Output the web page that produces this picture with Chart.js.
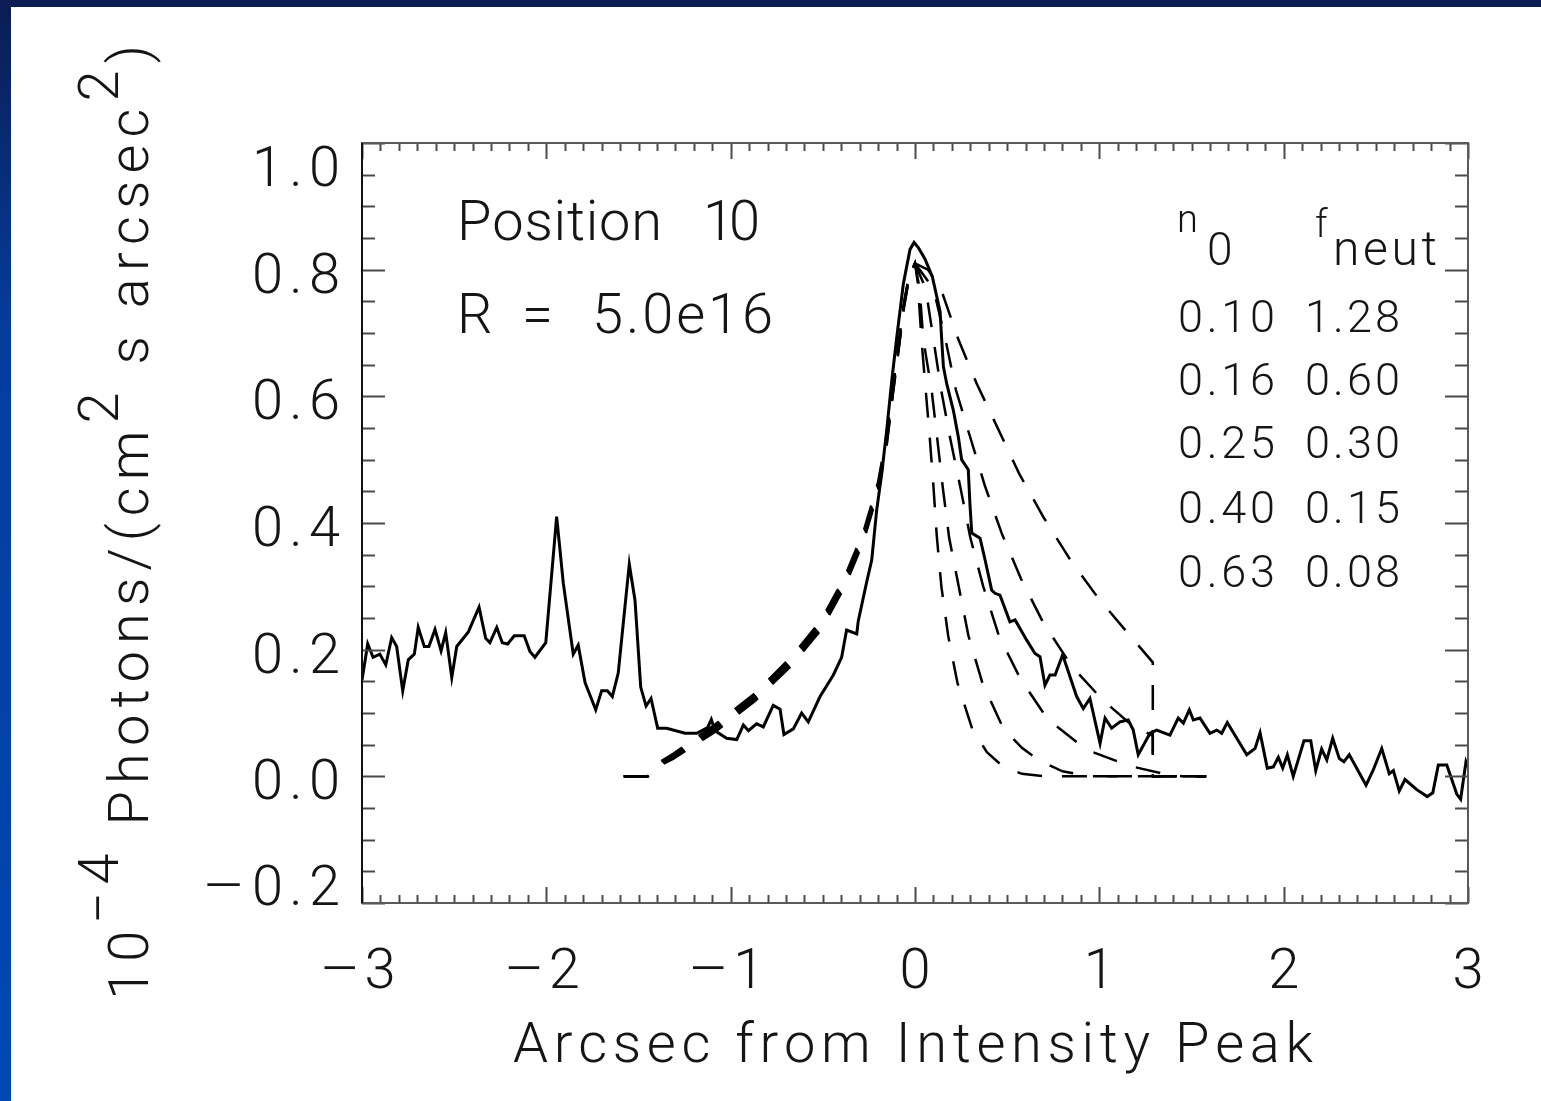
<!DOCTYPE html>
<html>
<head>
<meta charset="utf-8">
<title>Position 10 profile</title>
<script src="https://cdn.jsdelivr.net/npm/chart.js@4.4.1/dist/chart.umd.min.js"></script>
<style>
  html, body { margin: 0; padding: 0; background: #fff; }
  canvas { display: block; }
</style>
</head>
<body>
<canvas id="chartProfile" width="1541" height="1101"></canvas>
<script>
// observed profile (solid line)
const obsX = [
  -3.000, -2.969, -2.940, -2.903, -2.871, -2.839, -2.812, -2.779, -2.749, -2.716,
  -2.695, -2.662, -2.637, -2.604, -2.571, -2.546, -2.513, -2.486, -2.423, -2.365,
  -2.329, -2.306, -2.269, -2.239, -2.210, -2.174, -2.120, -2.089, -2.062, -2.003,
  -1.944, -1.908, -1.854, -1.827, -1.790, -1.732, -1.700, -1.669, -1.642, -1.610,
  -1.550, -1.519, -1.488, -1.459, -1.432, -1.396, -1.347, -1.248, -1.184, -1.125,
  -1.105, -1.085, -1.022, -0.967, -0.931, -0.904, -0.859, -0.823, -0.769, -0.732,
  -0.711, -0.660, -0.615, -0.579, -0.515, -0.443, -0.398, -0.371, -0.316, -0.308,
  -0.262, -0.235, -0.208, -0.181, -0.154, -0.126, -0.099, -0.063, -0.027, -0.005, 0.018,
  0.054, 0.094, 0.136, 0.145, 0.154, 0.172, 0.208, 0.235, 0.253, 0.289,
  0.298, 0.308, 0.353, 0.380, 0.416, 0.434, 0.461, 0.515, 0.543, 0.606,
  0.651, 0.678, 0.705, 0.732, 0.760, 0.801, 0.877, 0.913, 0.949, 1.004,
  1.031, 1.067, 1.112, 1.157, 1.184, 1.211, 1.275, 1.311, 1.383, 1.428,
  1.456, 1.488, 1.510, 1.546, 1.600, 1.637, 1.664, 1.694, 1.800, 1.845,
  1.872, 1.911, 1.944, 1.971, 1.995, 2.020, 2.052, 2.110, 2.147, 2.174,
  2.206, 2.234, 2.266, 2.302, 2.327, 2.356, 2.447, 2.486, 2.532, 2.573,
  2.595, 2.627, 2.658, 2.722, 2.779, 2.809, 2.839, 2.885, 2.939, 2.960,
  2.989, 3.000
];
const obsY = [
  0.152, 0.209, 0.188, 0.193, 0.176, 0.219, 0.205, 0.135, 0.184, 0.193,
  0.235, 0.205, 0.205, 0.232, 0.198, 0.227, 0.156, 0.205, 0.228, 0.267,
  0.218, 0.211, 0.235, 0.211, 0.209, 0.222, 0.222, 0.197, 0.188, 0.211,
  0.410, 0.305, 0.193, 0.207, 0.148, 0.105, 0.135, 0.135, 0.126, 0.163,
  0.335, 0.278, 0.141, 0.111, 0.123, 0.076, 0.076, 0.068, 0.068, 0.077,
  0.090, 0.072, 0.060, 0.058, 0.081, 0.072, 0.083, 0.078, 0.112, 0.106,
  0.066, 0.075, 0.100, 0.086, 0.126, 0.160, 0.188, 0.231, 0.225, 0.245,
  0.307, 0.341, 0.420, 0.477, 0.545, 0.625, 0.693, 0.778, 0.832, 0.843, 0.835,
  0.817, 0.789, 0.734, 0.689, 0.647, 0.620, 0.578, 0.536, 0.500, 0.484,
  0.430, 0.384, 0.376, 0.342, 0.294, 0.289, 0.286, 0.244, 0.247, 0.215,
  0.194, 0.189, 0.144, 0.160, 0.160, 0.192, 0.126, 0.107, 0.123, 0.052,
  0.092, 0.076, 0.086, 0.089, 0.073, 0.034, 0.068, 0.073, 0.065, 0.092,
  0.084, 0.105, 0.089, 0.092, 0.068, 0.073, 0.068, 0.085, 0.034, 0.044,
  0.069, 0.013, 0.015, 0.030, 0.013, 0.034, 0.000, 0.056, 0.056, 0.009,
  0.043, 0.026, 0.060, 0.028, 0.023, 0.034, -0.014, 0.010, 0.044, 0.004,
  0.009, -0.023, -0.005, -0.021, -0.032, -0.026, 0.018, 0.018, -0.028, -0.036,
  0.023, 0.015
];

// model curves (dashed), narrowest (A) to widest (E)
const modelAX = [-1.58, -1.45, -1.42, -1.31, -1.085, -0.868, -0.673, -0.51, -0.38, -0.277, -0.20, -0.152, -0.119, -0.09, -0.06, -0.03, 0.0,
  0.015, 0.035, 0.058, 0.08, 0.10, 0.118, 0.143, 0.18, 0.23, 0.31, 0.39, 0.475, 0.58, 0.70, 1.58];
const modelAY = [0, 0, 0.012, 0.028, 0.070, 0.119, 0.174, 0.231, 0.300, 0.373, 0.449, 0.526, 0.605, 0.670, 0.740, 0.790, 0.810,
  0.78, 0.69, 0.61, 0.535, 0.458, 0.38, 0.30, 0.222, 0.148, 0.075, 0.038, 0.016, 0.004, 0, 0];

const modelBX = [-1.58, -1.45, -1.42, -1.31, -1.085, -0.868, -0.673, -0.51, -0.38, -0.277, -0.20, -0.152, -0.119, -0.09, -0.06, -0.03, 0.0,
  0.025, 0.045, 0.09, 0.12, 0.15, 0.185, 0.237, 0.29, 0.365, 0.48, 0.58, 0.675, 0.80, 0.95, 1.58];
const modelBY = [0, 0, 0.013, 0.030, 0.073, 0.122, 0.177, 0.234, 0.304, 0.377, 0.453, 0.530, 0.608, 0.673, 0.742, 0.791, 0.810,
  0.77, 0.69, 0.61, 0.535, 0.458, 0.377, 0.30, 0.222, 0.148, 0.075, 0.045, 0.025, 0.008, 0, 0];

const modelCX = [-1.58, -1.45, -1.42, -1.31, -1.085, -0.868, -0.673, -0.51, -0.38, -0.277, -0.20, -0.152, -0.119, -0.09, -0.06, -0.03, 0.0,
  0.058, 0.10, 0.142, 0.19, 0.245, 0.30, 0.37, 0.455, 0.57, 0.72, 0.93, 1.17, 1.35, 1.45, 1.58];
const modelCY = [0, 0, 0.014, 0.032, 0.076, 0.125, 0.180, 0.238, 0.308, 0.381, 0.457, 0.534, 0.611, 0.676, 0.744, 0.792, 0.810,
  0.77, 0.69, 0.61, 0.535, 0.458, 0.377, 0.30, 0.222, 0.155, 0.09, 0.042, 0.016, 0.004, 0, 0];

const modelDX = [-1.58, -1.45, -1.42, -1.31, -1.085, -0.868, -0.673, -0.51, -0.38, -0.277, -0.20, -0.152, -0.119, -0.09, -0.06, -0.03, 0.0,
  0.10, 0.165, 0.222, 0.30, 0.38, 0.47, 0.575, 0.695, 0.85, 1.02, 1.18, 1.29, 1.29, 1.58];
const modelDY = [0, 0, 0.015, 0.034, 0.079, 0.128, 0.184, 0.242, 0.312, 0.385, 0.461, 0.538, 0.614, 0.679, 0.746, 0.793, 0.810,
  0.77, 0.69, 0.61, 0.535, 0.458, 0.384, 0.312, 0.243, 0.174, 0.12, 0.08, 0.064, 0, 0];

const modelEX = [-1.58, -1.45, -1.42, -1.31, -1.085, -0.868, -0.673, -0.51, -0.38, -0.277, -0.20, -0.152, -0.119, -0.09, -0.06, -0.03, 0.0,
  0.07, 0.14, 0.235, 0.335, 0.45, 0.565, 0.695, 0.84, 0.995, 1.17, 1.29, 1.29, 1.58];
const modelEY = [0, 0, 0.016, 0.036, 0.082, 0.131, 0.188, 0.246, 0.316, 0.389, 0.465, 0.542, 0.617, 0.682, 0.748, 0.794, 0.810,
  0.80, 0.77, 0.69, 0.62, 0.549, 0.478, 0.41, 0.343, 0.281, 0.221, 0.18, 0, 0];

// legend table
const legendN0 = ['0.10', '0.16', '0.25', '0.40', '0.63'];
const legendFneut = ['1.28', '0.60', '0.30', '0.15', '0.08'];

// ticks
const xTickValues = [-3, -2, -1, 0, 1, 2, 3];
const xTickLabels = ['\u22123', '\u22122', '\u22121', '0', '1', '2', '3'];
const yTickValues = [-0.2, 0.0, 0.2, 0.4, 0.6, 0.8, 1.0];
const yTickLabels = ['\u22120.2', '0.0', '0.2', '0.4', '0.6', '0.8', '1.0'];

const FONT = 'Roboto, "DejaVu Sans", sans-serif';
const INK = '#151515';
const MINUS = '\u2212';

const toXY = (xs, ys) => xs.map((x, i) => ({ x: x, y: ys[i] }));

// widest model goes with lowest n0
const models = [
  { xs: modelEX, ys: modelEY, leg: 0 },
  { xs: modelDX, ys: modelDY, leg: 1 },
  { xs: modelCX, ys: modelCY, leg: 2 },
  { xs: modelBX, ys: modelBY, leg: 3 },
  { xs: modelAX, ys: modelAY, leg: 4 }
];

function runsWidth(ctx, runs) {
  let w = 0, count = 0;
  runs.forEach(r => {
    ctx.font = `300 ${r.size}px ${FONT}`;
    [...r.text].forEach(c => { w += ctx.measureText(c).width; count++; });
  });
  return { w: w, count: count };
}

// draws text char by char so it spans a given width
function spreadText(ctx, runs, x, y, width) {
  const m = runsWidth(ctx, runs);
  const gap = width && m.count > 1 ? (width - m.w) / (m.count - 1) : 0;
  let cx = x;
  runs.forEach(r => {
    ctx.font = `300 ${r.size}px ${FONT}`;
    [...r.text].forEach(c => {
      ctx.fillText(c, cx, y - (r.rise || 0));
      cx += ctx.measureText(c).width + gap;
    });
  });
}

// long IDL-style minus sign, centred at cx
function wideMinus(ctx, cx, y, size, inkWidth) {
  ctx.font = `300 ${size}px ${FONT}`;
  const m = ctx.measureText(MINUS);
  const ink = m.actualBoundingBoxRight + m.actualBoundingBoxLeft;
  const mid = (m.actualBoundingBoxRight - m.actualBoundingBoxLeft) / 2;
  ctx.save();
  ctx.translate(cx, y);
  ctx.scale(inkWidth / ink, 1);
  ctx.fillText(MINUS, -mid, 0);
  ctx.restore();
}

const slideFrame = {
  id: 'slideFrame',
  beforeDraw(chart) {
    const ctx = chart.ctx;
    ctx.save();
    ctx.fillStyle = '#ffffff';
    ctx.fillRect(0, 0, chart.width, chart.height);
    const g = ctx.createLinearGradient(0, 0, 0, chart.height);
    g.addColorStop(0, '#0b1d52');
    g.addColorStop(0.3, '#053d9c');
    g.addColorStop(1, '#0049b2');
    ctx.fillStyle = g;
    ctx.fillRect(0, 0, 11, chart.height);
    ctx.fillStyle = '#0b1d52';
    ctx.fillRect(0, 0, chart.width, 7);
    ctx.restore();
  }
};

const axesAndText = {
  id: 'axesAndText',
  afterDraw(chart) {
    const ctx = chart.ctx;
    const { left, right, top, bottom } = chart.chartArea;
    const xs = chart.scales.x, ys = chart.scales.y;
    ctx.save();

    // inward ticks
    ctx.strokeStyle = '#4a4a4a';
    ctx.lineWidth = 2;
    ctx.beginPath();
    for (let k = -30; k <= 30; k++) {
      const px = Math.round(xs.getPixelForValue(k / 10)) + 0.5;
      const len = k % 10 === 0 ? 16 : 8;
      ctx.moveTo(px, bottom); ctx.lineTo(px, bottom - len);
      ctx.moveTo(px, top); ctx.lineTo(px, top + len);
    }
    for (let k = -4; k <= 20; k++) {
      const py = Math.round(ys.getPixelForValue(k * 0.05)) + 0.5;
      const len = k % 4 === 0 ? 23 : 13;
      ctx.moveTo(left, py); ctx.lineTo(left + len, py);
      ctx.moveTo(right, py); ctx.lineTo(right - len, py);
    }
    ctx.stroke();

    // box
    ctx.strokeStyle = '#5a5a5a';
    ctx.lineWidth = 2;
    ctx.strokeRect(left, top, right - left, bottom - top);
    ctx.strokeStyle = '#111';
    ctx.beginPath(); ctx.moveTo(left, top); ctx.lineTo(left, bottom); ctx.stroke();

    ctx.fillStyle = INK;
    ctx.textBaseline = 'alphabetic';
    ctx.textAlign = 'left';

    // y tick labels, right aligned (edge labels sit inside the box height)
    yTickValues.forEach((v, i) => {
      const lab = yTickLabels[i];
      const neg = lab.startsWith(MINUS);
      const digits = neg ? lab.slice(1) : lab;
      let cy = ys.getPixelForValue(v) + 3;
      cy = Math.max(top + 23, Math.min(bottom - 18, cy));
      spreadText(ctx, [{ text: digits, size: 56 }], 252, cy + 20, 88);
      if (neg) wideMinus(ctx, 224, cy + 20, 56, 34);
    });

    // x tick labels
    xTickValues.forEach((v, i) => {
      const lab = xTickLabels[i];
      const neg = lab.startsWith(MINUS);
      const digits = neg ? lab.slice(1) : lab;
      const px = xs.getPixelForValue(v);
      const w = runsWidth(ctx, [{ text: digits, size: 56 }]).w;
      const dc = neg ? px + 18 : px;
      spreadText(ctx, [{ text: digits, size: 56 }], dc - w / 2, 988, 0);
      if (neg) wideMinus(ctx, px - 22, 988, 56, 32);
    });

    // x title
    spreadText(ctx, [{ text: 'Arcsec from Intensity Peak', size: 56 }], 513, 1062, 800);

    // y title, rotated, with superscripts
    ctx.save();
    ctx.translate(148, 1000);
    ctx.rotate(-Math.PI / 2);
    spreadText(ctx, [
      { text: '10', size: 56 },
      { text: MINUS + '4', size: 56, rise: 30 },
      { text: ' Photons/(cm', size: 56 },
      { text: '2', size: 56, rise: 30 },
      { text: ' s arcsec', size: 56 },
      { text: '2', size: 56, rise: 30 },
      { text: ')', size: 56 }
    ], 0, 0, 955);
    ctx.restore();

    // annotations
    spreadText(ctx, [{ text: 'Position', size: 56 }], 457, 240, 205);
    spreadText(ctx, [{ text: '10', size: 56 }], 703, 240, 57);
    spreadText(ctx, [{ text: 'R', size: 56 }], 457, 333, 0);
    spreadText(ctx, [{ text: '=', size: 56 }], 522, 333, 0);
    spreadText(ctx, [{ text: '5.0e16', size: 56 }], 592, 333, 181);

    // table header
    spreadText(ctx, [{ text: 'n', size: 38 }], 1177, 232, 0);
    spreadText(ctx, [{ text: '0', size: 46 }], 1207, 265, 0);
    spreadText(ctx, [{ text: 'f', size: 38 }], 1315, 237, 0);
    spreadText(ctx, [{ text: 'neut', size: 48 }], 1333, 265, 104);

    // table rows
    const rowBase = [332, 395, 458, 523, 587];
    legendN0.forEach((n, i) => {
      spreadText(ctx, [{ text: n, size: 45 }], 1178, rowBase[i], 97);
      spreadText(ctx, [{ text: legendFneut[i], size: 45 }], 1305, rowBase[i], 95);
    });

    ctx.restore();
  }
};

Chart.defaults.font.family = FONT;

const datasets = models.map(m => ({
  label: `n0 ${legendN0[m.leg]}  fneut ${legendFneut[m.leg]}`,
  data: toXY(m.xs, m.ys),
  borderColor: '#000',
  borderWidth: 2.5,
  borderDash: [25, 20],
  pointRadius: 0,
  tension: 0,
  fill: false
}));
datasets.push({
  label: 'Observed',
  data: toXY(obsX, obsY),
  borderColor: '#000',
  borderWidth: 3,
  pointRadius: 0,
  tension: 0,
  fill: false
});

const chartProfile = new Chart(document.getElementById('chartProfile'), {
  type: 'line',
  data: { datasets: datasets },
  options: {
    responsive: false,
    animation: false,
    devicePixelRatio: 1,
    layout: { padding: { top: 143, right: 73, left: 0, bottom: 0 } },
    plugins: {
      legend: { display: false },
      tooltip: { enabled: false }
    },
    scales: {
      x: {
        type: 'linear',
        min: -3,
        max: 3,
        grid: { display: false, drawTicks: false },
        border: { display: false },
        afterBuildTicks: s => { s.ticks = xTickValues.map(v => ({ value: v })); },
        afterFit: s => { s.height = 198; },
        ticks: { display: false }
      },
      y: {
        type: 'linear',
        min: -0.2,
        max: 1.0,
        grid: { display: false, drawTicks: false },
        border: { display: false },
        afterBuildTicks: s => { s.ticks = yTickValues.map(v => ({ value: v })); },
        afterFit: s => { s.width = 362; },
        ticks: { display: false }
      }
    }
  },
  plugins: [slideFrame, axesAndText]
});
</script>
</body>
</html>
